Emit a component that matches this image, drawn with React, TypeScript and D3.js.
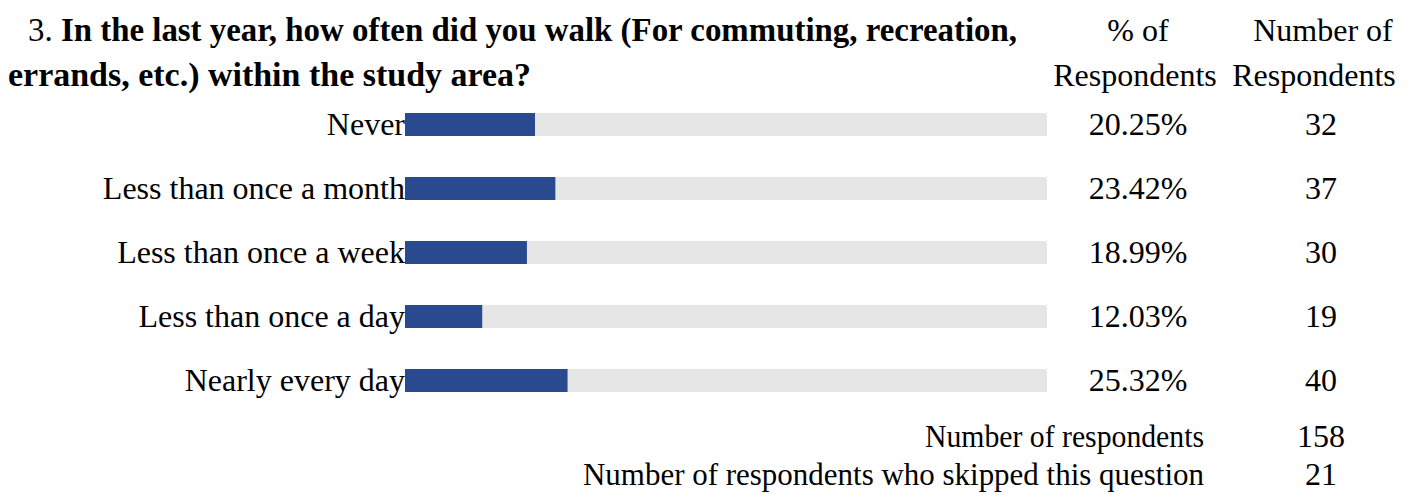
import React, { useEffect } from "react";
import * as d3 from "d3";

const categories = [
  "Never",
  "Less than once a month",
  "Less than once a week",
  "Less than once a day",
  "Nearly every day",
];
const percents = [20.25, 23.42, 18.99, 12.03, 25.32];
const counts = [32, 37, 30, 19, 40];
const footerLabels = [
  "Number of respondents",
  "Number of respondents who skipped this question",
];
const footerValues = [158, 21];
const footerWidths = [279, 621];

const W = 1423;
const H = 494;
const FONT = "'Liberation Serif', 'Times New Roman', serif";
const BLUE = "#294a8e";
const TRACK = "#e6e6e6";

export default function App() {
  useEffect(() => {
    document.body.style.margin = "0";
  }, []);

  const x = d3.scaleLinear().domain([0, 100]).range([405, 1047]);
  const y = d3.scalePoint<string>().domain(categories).range([124.5, 380.5]);
  const barH = 23;
  const pctX = 1138;
  const cntX = 1321;

  return (
    <svg width={W} height={H} style={{ display: "block", background: "#fff" }} fontFamily={FONT}>
      {/* Title */}
      <text x={28} y={41} fontSize={33} fill="#000" textLength={989} lengthAdjust="spacingAndGlyphs">
        <tspan>3. </tspan>
        <tspan fontWeight="bold">In the last year, how often did you walk (For commuting, recreation,</tspan>
      </text>
      <text x={8} y={86} fontSize={33} fill="#000" fontWeight="bold" textLength={523} lengthAdjust="spacingAndGlyphs">
        errands, etc.) within the study area?
      </text>

      {/* Column headers */}
      <text x={1138} y={41} fontSize={32} textAnchor="middle">% of</text>
      <text x={1135} y={86} fontSize={32} textAnchor="middle">Respondents</text>
      <text x={1323} y={41} fontSize={32} textAnchor="middle">Number of</text>
      <text x={1314} y={86} fontSize={32} textAnchor="middle">Respondents</text>

      {/* Rows */}
      {categories.map((c, i) => {
        const cy = y(c) as number;
        return (
          <g key={c}>
            <rect x={x(0)} y={cy - barH / 2} width={x(100) - x(0)} height={barH} fill={TRACK} />
            <rect x={x(0)} y={cy - barH / 2} width={x(percents[i]) - x(0)} height={barH} fill={BLUE} />
            <text x={x(0)} y={cy + 10.5} fontSize={32} textAnchor="end">{c}</text>
            <text x={pctX} y={cy + 10.5} fontSize={32} textAnchor="middle">{percents[i].toFixed(2)}%</text>
            <text x={cntX} y={cy + 10.5} fontSize={32} textAnchor="middle">{counts[i]}</text>
          </g>
        );
      })}

      {/* Footer */}
      {footerLabels.map((l, i) => {
        const by = 447 + i * 38;
        return (
          <g key={l}>
            <text
              x={1204 - footerWidths[i]}
              y={by}
              fontSize={32}
              textLength={footerWidths[i]}
              lengthAdjust="spacingAndGlyphs"
            >
              {l}
            </text>
            <text x={cntX} y={by} fontSize={32} textAnchor="middle">{footerValues[i]}</text>
          </g>
        );
      })}
    </svg>
  );
}
